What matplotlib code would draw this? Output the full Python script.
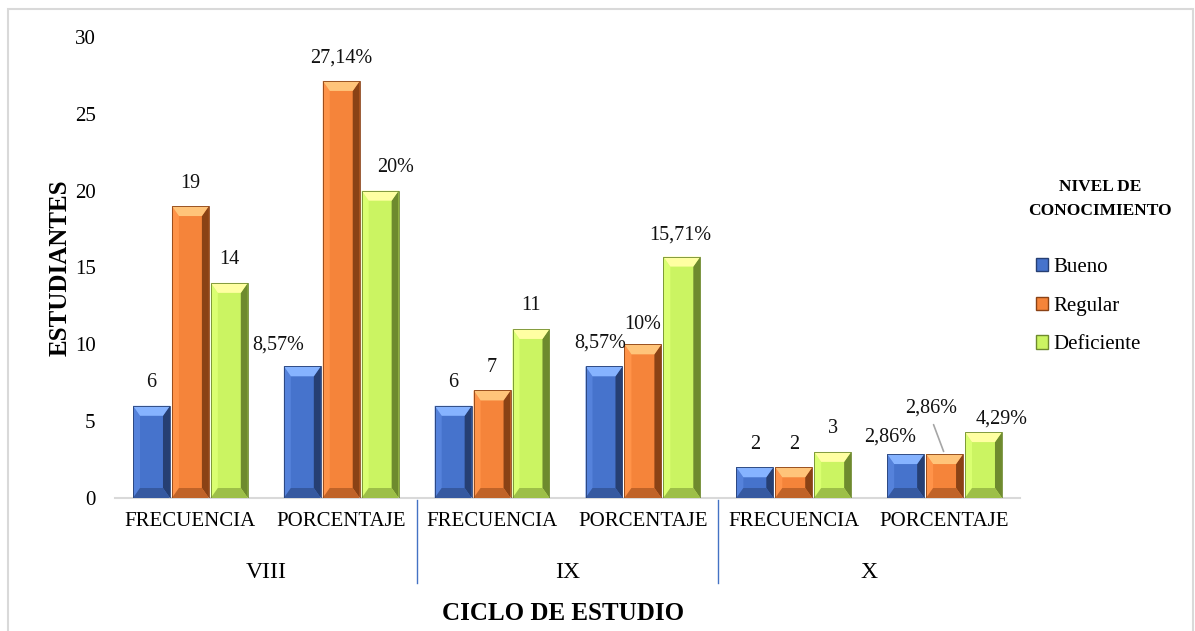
import matplotlib.pyplot as plt
from matplotlib.patches import Polygon, Patch, Rectangle
from matplotlib.lines import Line2D
import matplotlib.colors as mcolors

plt.rcParams['font.family'] = ['Liberation Serif', 'DejaVu Serif']

# data
ciclos = ['VIII', 'IX', 'X']
tipos = ['FRECUENCIA', 'PORCENTAJE'] * 3
niveles = ['Bueno', 'Regular', 'Deficiente']
bueno = [6, 8.57, 6, 8.57, 2, 2.86]
regular = [19, 27.14, 7, 10, 2, 2.86]
deficiente = [14, 20, 11, 15.71, 3, 4.29]
etq_bueno = ['6', '8,57%', '6', '8,57%', '2', '2,86%']
etq_regular = ['19', '27,14%', '7', '10%', '2', '2,86%']
etq_deficiente = ['14', '20%', '11', '15,71%', '3', '4,29%']

colores = ['#4673CC', '#F5843A', '#CBF462']
oscuros = ['#263F73', '#8A4215', '#6E8A2E']

# label offsets (px) relative to bar top centre
off_bueno = [(0, 23), (-24, 21), (0, 23), (-4, 23), (0, 23), (-16, 17)]
off_regular = [(0, 23), (0, 23), (0, 23), (0, 20), (0, 23), (-13, 46)]
off_deficiente = [(0, 23), (15, 23), (0, 23), (-2, 22), (0, 23), (18, 13)]

W, H = 1195, 631
fig = plt.figure(figsize=(W / 100, H / 100), dpi=100)
L, R, B, T = 115, 1020, 498, 37
ax = fig.add_axes([L / W, 1 - B / H, (R - L) / W, (B - T) / H])

x = list(range(len(tipos)))
ancho = 0.245
paso = 0.258
ax.set_xlim(-0.5, 5.5)
ax.set_ylim(0, 30)
pxx = 6 / (R - L)
pxy = 30 / (B - T)


def bisel(rect, base, dark):
    x0, y0 = rect.get_x(), rect.get_y()
    w, h = rect.get_width(), rect.get_height()
    x1, y1 = x0 + w, y0 + h
    bx = 7 * pxx
    by = min(10 * pxy, h / 2)
    light = mcolors.to_rgb(base)
    light = tuple(min(1, c + 0.25) for c in light)
    mid = tuple((a + b) / 2 for a, b in zip(mcolors.to_rgb(base), mcolors.to_rgb(dark)))
    # right side darker
    ax.add_patch(Polygon([(x1 - bx, y0 + by), (x1, y0), (x1, y1), (x1 - bx, y1 - by)],
                         closed=True, facecolor=dark, edgecolor='none', zorder=3))
    # left side slightly lighter
    lft = tuple(min(1, c + 0.06) for c in mcolors.to_rgb(base))
    ax.add_patch(Polygon([(x0, y0), (x0 + bx, y0 + by), (x0 + bx, y1 - by), (x0, y1)],
                         closed=True, facecolor=lft, edgecolor='none', zorder=3))
    # top lighter
    ax.add_patch(Polygon([(x0, y1), (x1, y1), (x1 - bx, y1 - by), (x0 + bx, y1 - by)],
                         closed=True, facecolor=light, edgecolor='none', zorder=3))
    # bottom darker
    ax.add_patch(Polygon([(x0, y0), (x1, y0), (x1 - bx, y0 + by), (x0 + bx, y0 + by)],
                         closed=True, facecolor=mid, edgecolor='none', zorder=3))
    ax.add_patch(Rectangle((x0, y0), w, h, facecolor='none', edgecolor=dark,
                           linewidth=0.6, zorder=4))


series = [bueno, regular, deficiente]
etqs = [etq_bueno, etq_regular, etq_deficiente]
offs = [off_bueno, off_regular, off_deficiente]
for k in range(3):
    pos = [xi + (k - 1) * paso for xi in x]
    barras = ax.bar(pos, series[k], width=ancho, color=colores[k], zorder=2)
    for rect in barras:
        bisel(rect, colores[k], oscuros[k])
    for j, rect in enumerate(barras):
        cx = rect.get_x() + rect.get_width() / 2
        top = rect.get_height()
        dx, dy = offs[k][j]
        ax.annotate(etqs[k][j], (cx, top), xytext=(dx * 0.72, dy * 0.72),
                    textcoords='offset points', ha='center', va='center',
                    fontsize=14.5, color='#111111', zorder=5)

# leader line for X porcentaje regular
rr = x[5]
ax.annotate('', (rr, regular[5]), xytext=(rr - 12 * pxx, regular[5] + 32 * pxy),
            arrowprops=dict(arrowstyle='-', color='#A6A6A6', lw=1.2), zorder=5)

ax.set_yticks(range(0, 31, 5))
ax.tick_params(axis='y', length=0, labelsize=15, pad=14)
ax.set_xticks(x)
ax.set_xticklabels(tipos, fontsize=15)
ax.tick_params(axis='x', length=0, pad=10)
for s in ['left', 'right', 'top']:
    ax.spines[s].set_visible(False)
ax.spines['bottom'].set_color('#D9D9D9')
ax.spines['bottom'].set_linewidth(1.5)

# group labels and dividers
for i, c in enumerate(ciclos):
    ax.text(2 * i + 0.5, -75 * pxy, c, ha='center', va='center', fontsize=17)
for i in range(1, 3):
    ax.add_line(Line2D([2 * i - 0.5, 2 * i - 0.5], [-2 * pxy, -85 * pxy],
                       color='#4472C4', lw=1, clip_on=False))

ax.set_ylabel('ESTUDIANTES', fontsize=18, fontweight='bold', labelpad=2)
fig.text(563 / W, 1 - 614 / H, 'CICLO DE ESTUDIO', ha='center', va='center',
         fontsize=18, fontweight='bold')

# legend
fig.text(1100 / W, 1 - 199 / H, 'NIVEL DE\nCONOCIMIENTO', ha='center', va='center',
         fontsize=12.5, fontweight='bold', linespacing=1.7)
handles = [Patch(facecolor=colores[k], edgecolor=oscuros[k]) for k in range(3)]
fig.legend(handles, niveles, loc='upper left', bbox_to_anchor=(1017 / W, 1 - 239 / H),
           frameon=False, fontsize=15, handlelength=0.6, handleheight=0.6,
           handletextpad=0.25, labelspacing=0.95)

# outer frame
fig.patches.append(Rectangle((8 / W, -0.05), (1193 - 8) / W, 1.05 - 9 / H,
                             transform=fig.transFigure, facecolor='none',
                             edgecolor='#D9D9D9', linewidth=1.5))

fig.savefig('out.png', dpi=100)
